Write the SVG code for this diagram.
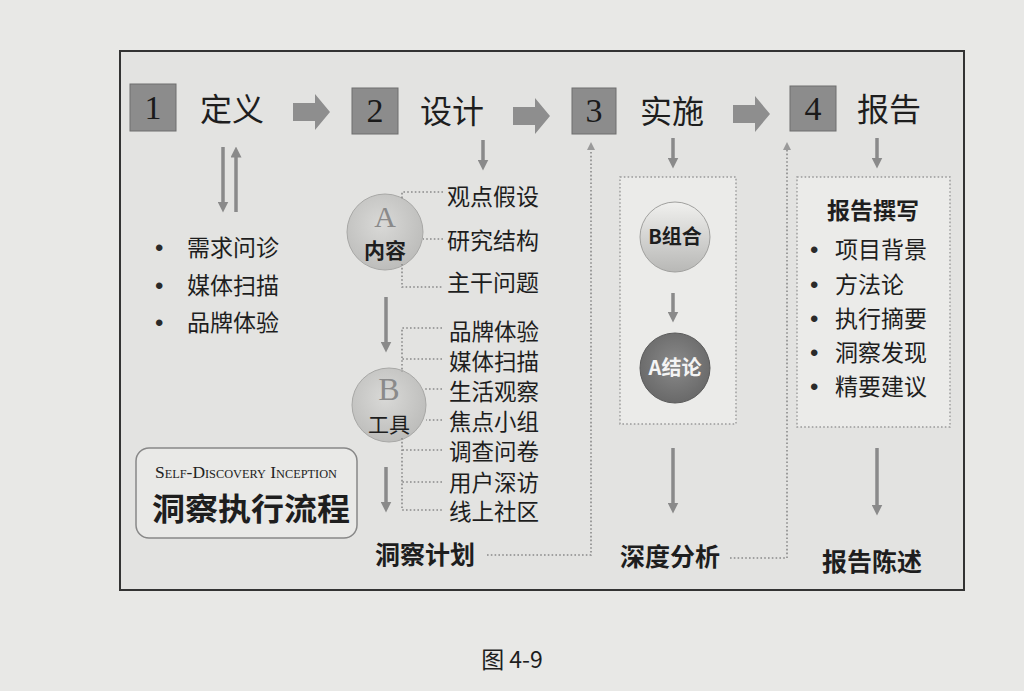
<svg xmlns="http://www.w3.org/2000/svg" width="1024" height="691" viewBox="0 0 1024 691">
<defs>
<style>
.cjk{font-family:"Noto Sans CJK SC","Noto Sans",sans-serif;fill:#1e1e1e}
.hdr{font-size:32px}
.item{font-size:23px}
.bul{font-family:"Liberation Sans",sans-serif;font-size:24px;fill:#2a2a2a}
.bold{font-weight:bold}
.num{font-family:"Liberation Serif",serif;font-size:34px;fill:#1a1a1a;text-anchor:middle}
.nbox{fill:#8c8c8c;stroke:#6e6e6e;stroke-width:1}
.blk{fill:#8e8e8e}
.arr{stroke:#8a8a8a;stroke-width:3.5;fill:none}
.dot{stroke:#8a8a8a;stroke-width:1.6;fill:none;stroke-dasharray:1.6 2.2}
.drect{fill:#ebebe9;stroke:#9a9a9a;stroke-width:1.4;stroke-dasharray:1.6 2.2}
</style>
<marker id="ah" viewBox="0 0 10 10" refX="5" refY="5" markerWidth="11" markerHeight="11" markerUnits="userSpaceOnUse" orient="auto">
<path d="M0,0 L10,5 L0,10 Z" fill="#8a8a8a"/>
</marker>
<marker id="ahs" viewBox="0 0 10 10" refX="5" refY="5" markerWidth="8" markerHeight="8" markerUnits="userSpaceOnUse" orient="auto">
<path d="M0,0 L10,5 L0,10 Z" fill="#9a9a9a"/>
</marker>
<path id="blockArrow" d="M0,9 H22 V0 L37,18 L22,36 V27 H0 Z"/>
<radialGradient id="gLight" cx="0.45" cy="0.4" r="0.6">
<stop offset="0" stop-color="#d9d9d7"/>
<stop offset="1" stop-color="#bdbdbb"/>
</radialGradient>
<linearGradient id="gB" x1="0" y1="0" x2="0" y2="1">
<stop offset="0" stop-color="#f0f0ee"/>
<stop offset="1" stop-color="#b8b8b6"/>
</linearGradient>
<radialGradient id="gDark" cx="0.5" cy="0.45" r="0.6">
<stop offset="0" stop-color="#8a8a8a"/>
<stop offset="1" stop-color="#666"/>
</radialGradient>
</defs>

<rect x="0" y="0" width="1024" height="691" fill="#e8e8e6"/>
<rect id="frame" x="120" y="51" width="844" height="539" fill="#e3e3e1" stroke="#333" stroke-width="2"/>

<!-- header steps -->
<g id="step1">
<rect class="nbox" x="130" y="84" width="46" height="47"/>
<text class="num" x="153" y="119">1</text>
<text class="cjk hdr" x="200" y="121">定义</text>
</g>
<g id="step2">
<rect class="nbox" x="352" y="88" width="46" height="46"/>
<text class="num" x="375" y="122">2</text>
<text class="cjk hdr" x="420" y="123">设计</text>
</g>
<g id="step3">
<rect class="nbox" x="572" y="88" width="44" height="46"/>
<text class="num" x="594" y="122">3</text>
<text class="cjk hdr" x="640" y="123">实施</text>
</g>
<g id="step4">
<rect class="nbox" x="790" y="86" width="46" height="45"/>
<text class="num" x="813" y="120">4</text>
<text class="cjk hdr" x="857" y="121">报告</text>
</g>

<!-- column 1 -->
<g id="define-list">
<text class="bul" x="155" y="256">•</text>
<text class="cjk item" x="187" y="256">需求问诊</text>
<text class="bul" x="155" y="294">•</text>
<text class="cjk item" x="187" y="294">媒体扫描</text>
<text class="bul" x="155" y="331">•</text>
<text class="cjk item" x="187" y="331">品牌体验</text>
</g>

<!-- column 2 -->
<g id="circleA">
<circle cx="385" cy="232" r="38" fill="url(#gLight)" stroke="#a8a8a6" stroke-width="1"/>
<text x="385" y="227" font-family="Liberation Serif,serif" font-size="30" fill="#8a8a8a" text-anchor="middle">A</text>
<text class="cjk bold" x="385" y="258" font-size="21" text-anchor="middle">内容</text>
</g>
<g id="contentList">
<text class="cjk item" x="447" y="205">观点假设</text>
<text class="cjk item" x="447" y="249">研究结构</text>
<text class="cjk item" x="447" y="291">主干问题</text>
</g>
<g id="circleB">
<circle cx="389" cy="405" r="37" fill="url(#gLight)" stroke="#a8a8a6" stroke-width="1"/>
<text x="389" y="400" font-family="Liberation Serif,serif" font-size="32" fill="#8a8a8a" text-anchor="middle">B</text>
<text class="cjk" x="389" y="432" font-size="21" text-anchor="middle">工具</text>
</g>
<g id="toolList">
<text class="cjk" font-size="22.5" x="449" y="340">品牌体验</text>
<text class="cjk" font-size="22.5" x="449" y="370">媒体扫描</text>
<text class="cjk" font-size="22.5" x="449" y="400">生活观察</text>
<text class="cjk" font-size="22.5" x="449" y="430">焦点小组</text>
<text class="cjk" font-size="22.5" x="449" y="460">调查问卷</text>
<text class="cjk" font-size="22.5" x="449" y="491">用户深访</text>
<text class="cjk" font-size="22.5" x="449" y="520">线上社区</text>
</g>
<g id="plan">
<text class="cjk bold" x="375" y="564" font-size="25">洞察计划</text>
</g>

<!-- column 3 -->
<g id="analysisBox">
<rect class="drect" x="620" y="177" width="116" height="247"/>
</g>
<g id="circleBcombo">
<circle cx="675" cy="237" r="35" fill="url(#gB)" stroke="#a0a09e" stroke-width="1"/>
<text class="cjk bold" x="675" y="244" font-size="20" text-anchor="middle">B组合</text>
</g>
<g id="circleAconc">
<circle cx="675" cy="368" r="35" fill="url(#gDark)" stroke="#5a5a5a" stroke-width="1"/>
<text class="cjk bold" x="675" y="375" font-size="20" text-anchor="middle" style="fill:#f4f4f4">A结论</text>
</g>
<g id="analysis">
<text class="cjk bold" x="620" y="566" font-size="25">深度分析</text>
</g>

<!-- column 4 -->
<g id="reportBox">
<rect class="drect" x="797" y="177" width="153" height="250"/>
<text class="cjk bold" x="827" y="219" font-size="23">报告撰写</text>
<text class="bul" x="810" y="258">•</text>
<text class="cjk item" x="835" y="258">项目背景</text>
<text class="bul" x="810" y="293">•</text>
<text class="cjk item" x="835" y="293">方法论</text>
<text class="bul" x="810" y="327">•</text>
<text class="cjk item" x="835" y="327">执行摘要</text>
<text class="bul" x="810" y="361">•</text>
<text class="cjk item" x="835" y="361">洞察发现</text>
<text class="bul" x="810" y="395">•</text>
<text class="cjk item" x="835" y="395">精要建议</text>
</g>
<g id="presentation">
<text class="cjk bold" x="822" y="571" font-size="25">报告陈述</text>
</g>

<!-- title box -->
<g id="titleBox">
<rect x="136" y="448" width="221" height="90" rx="13" ry="13" fill="#e9e9e7" stroke="#888" stroke-width="1.5"/>
<text x="155" y="478" font-family="Liberation Serif,serif" font-size="17" fill="#222" style="font-variant:small-caps" textLength="182" lengthAdjust="spacingAndGlyphs">Self-Discovery Inception</text>
<text class="cjk bold" x="152" y="520" font-size="31" textLength="198" lengthAdjust="spacingAndGlyphs">洞察执行流程</text>
</g>

<!-- connectors -->
<g id="connectors">
<use href="#blockArrow" class="blk" x="293" y="94"/>
<use href="#blockArrow" class="blk" x="513" y="98"/>
<use href="#blockArrow" class="blk" x="733" y="96"/>
<line class="arr" x1="223" y1="147" x2="223" y2="207" marker-end="url(#ah)"/>
<line class="arr" x1="236" y1="212" x2="236" y2="152" marker-end="url(#ah)"/>
<line class="arr" x1="483" y1="140" x2="483" y2="165" marker-end="url(#ah)"/>
<line class="arr" x1="386" y1="297" x2="386" y2="347" marker-end="url(#ah)"/>
<line class="arr" x1="386" y1="467" x2="386" y2="507" marker-end="url(#ah)"/>
<line class="arr" x1="673" y1="138" x2="673" y2="163" marker-end="url(#ah)"/>
<line class="arr" x1="673" y1="293" x2="673" y2="317" marker-end="url(#ah)"/>
<line class="arr" x1="673" y1="448" x2="673" y2="508" marker-end="url(#ah)"/>
<line class="arr" x1="877" y1="138" x2="877" y2="163" marker-end="url(#ah)"/>
<line class="arr" x1="877" y1="448" x2="877" y2="510" marker-end="url(#ah)"/>
<!-- A bracket -->
<path class="dot" d="M443,192 H402 V200"/>
<path class="dot" d="M443,239 H423"/>
<path class="dot" d="M402,264 V287 H443"/>
<!-- B bracket -->
<path class="dot" d="M442,328 H402 V372"/>
<path class="dot" d="M442,359 H402"/>
<path class="dot" d="M442,389 H424"/>
<path class="dot" d="M442,420 H426"/>
<path class="dot" d="M402,438 V510 H442"/>
<path class="dot" d="M442,450 H402"/>
<path class="dot" d="M442,482 H402"/>
<!-- dotted feedback -->
<path class="dot" d="M487,555 H591 V146" marker-end="url(#ahs)"/>
<path class="dot" d="M730,558 H787 V146" marker-end="url(#ahs)"/>
</g>

<text x="512" y="668" font-family="Noto Sans CJK SC,Noto Sans,sans-serif" font-size="23" fill="#1e1e1e" text-anchor="middle">图 4-9</text>
</svg>
